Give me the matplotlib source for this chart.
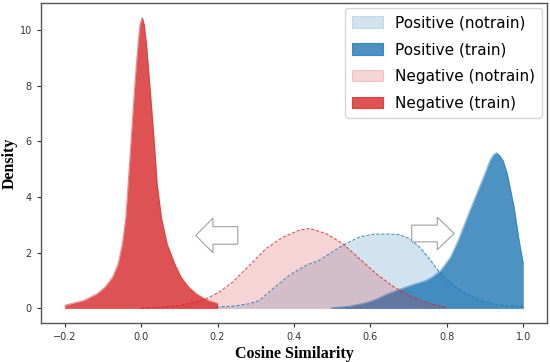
import matplotlib
matplotlib.use("Agg")
import matplotlib.pyplot as plt
import matplotlib.patches as mpatches

# ---- data ----
pos_notrain_x = [0.197, 0.24, 0.284, 0.31, 0.345, 0.388, 0.432, 0.467, 0.501, 0.536, 0.571, 0.606,
                 0.64, 0.675, 0.702, 0.728, 0.754, 0.78, 0.806, 0.841, 0.884, 0.928, 0.96, 1.00]
pos_notrain_y = [0.05, 0.08, 0.17, 0.29, 0.71, 1.19, 1.55, 1.73, 2.03, 2.33, 2.56, 2.66,
                 2.67, 2.65, 2.51, 2.21, 1.79, 1.31, 0.95, 0.59, 0.29, 0.14, 0.09, 0.07]

pos_train_x = [0.497, 0.545, 0.588, 0.615, 0.641, 0.675, 0.71, 0.745, 0.762, 0.784, 0.81, 0.83,
               0.864, 0.90, 0.913, 0.922, 0.930, 0.938, 0.947, 0.958, 0.976, 0.989, 1.00]
pos_train_y = [0.02, 0.08, 0.20, 0.33, 0.50, 0.68, 0.85, 1.00, 1.13, 1.37, 1.85, 2.45,
               3.64, 4.85, 5.32, 5.52, 5.59, 5.50, 5.32, 4.85, 3.64, 2.45, 1.61]

neg_notrain_x = [0.00, 0.05, 0.10, 0.14, 0.171, 0.205, 0.24, 0.284, 0.327, 0.371, 0.414, 0.44,
                 0.484, 0.527, 0.571, 0.615, 0.658, 0.71, 0.754, 0.797]
neg_notrain_y = [0.01, 0.04, 0.10, 0.22, 0.35, 0.59, 0.95, 1.55, 2.15, 2.56, 2.81, 2.87,
                 2.69, 2.33, 1.79, 1.25, 0.80, 0.41, 0.17, 0.05]

neg_train_x = [-0.20, -0.195, -0.151, -0.116, -0.095, -0.075, -0.06, -0.049, -0.040, -0.034,
               -0.028, -0.021, -0.015, -0.008, -0.003, 0.003, 0.008, 0.014, 0.021, 0.028, 0.036,
               0.042, 0.053, 0.068, 0.088, 0.105, 0.125, 0.145, 0.175, 0.20]
neg_train_y = [0.10, 0.13, 0.28, 0.52, 0.76, 1.12, 1.60, 2.32, 3.27, 4.47,
               5.67, 7.11, 8.31, 9.51, 10.2, 10.45, 10.2, 9.51, 8.31, 7.11, 5.67,
               4.47, 3.27, 2.32, 1.60, 1.12, 0.76, 0.52, 0.28, 0.18]

labels = ["Positive (notrain)", "Positive (train)", "Negative (notrain)", "Negative (train)"]
x_ticks = [-0.2, 0.0, 0.2, 0.4, 0.6, 0.8, 1.0]
y_ticks = [0, 2, 4, 6, 8, 10]

blue = "#1f77b4"
red = "#d62728"

fig = plt.figure(figsize=(5.5, 3.62), dpi=100)
ax = fig.add_axes([0.0745, 0.108, 0.92, 0.884])

series = [
    (pos_notrain_x, pos_notrain_y, blue, 0.2, "--", labels[0]),
    (pos_train_x, pos_train_y, blue, 0.8, "-", labels[1]),
    (neg_notrain_x, neg_notrain_y, red, 0.2, "--", labels[2]),
    (neg_train_x, neg_train_y, red, 0.8, "-", labels[3]),
]
handles = []
for xs, ys, c, a, ls, lab in series:
    ax.fill_between(xs, ys, 0, color=c, alpha=a, linewidth=0)
    ax.plot(xs, ys, color=c, alpha=0.8 if ls == "--" else 0.5, lw=0.8, ls=ls,
            solid_joinstyle="round", dashes=(3, 1.5) if ls == "--" else (None, None))
    handles.append(mpatches.Patch(facecolor=c, alpha=a, edgecolor=c, linewidth=0.8, label=lab))

ax.set_xlim(-0.262, 1.062)
ax.set_ylim(-0.52, 10.97)
ax.set_xticks(x_ticks)
ax.set_yticks(y_ticks)
ax.tick_params(labelsize=7, colors="#333333", length=3, width=0.8)
for s in ax.spines.values():
    s.set_color("#555555")
    s.set_linewidth(1.0)

# hollow direction arrows
arr_kw = dict(facecolor="white", edgecolor="#a0a0a0", linewidth=0.8, length_includes_head=True, zorder=5)
ax.add_patch(mpatches.FancyArrow(0.253, 2.62, -0.110, 0, width=0.63, head_width=1.24,
                                 head_length=0.045, **arr_kw))
ax.add_patch(mpatches.FancyArrow(0.708, 2.69, 0.111, 0, width=0.60, head_width=1.17,
                                 head_length=0.044, **arr_kw))

ax.set_xlabel("Cosine Similarity", fontsize=11.5, fontweight="bold", family="Liberation Serif", labelpad=3)
ax.set_ylabel("Density", fontsize=11.5, fontweight="bold", family="Liberation Serif")
ax.yaxis.set_label_coords(-0.046, 0.5)

ax.legend(handles=handles, loc="upper right", fontsize=11, borderaxespad=0.35,
          labelspacing=0.78, handleheight=0.8, borderpad=0.45)

fig.savefig("out.png", dpi=100)
